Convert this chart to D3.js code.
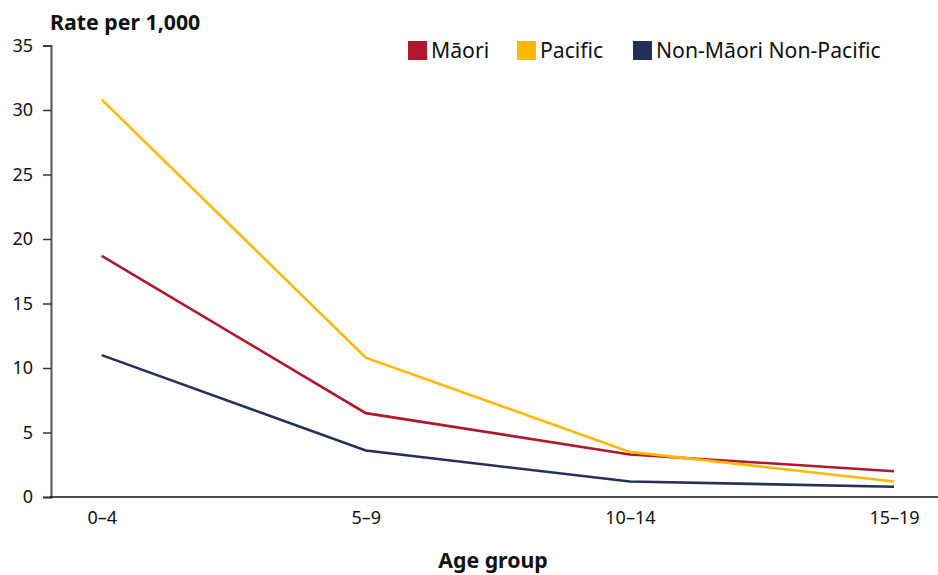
<!DOCTYPE html>
<html><head><meta charset="utf-8">
<script src="https://cdn.jsdelivr.net/npm/d3@7"></script>
<style>body{margin:0;background:#fff;} svg{display:block;font-family:"Noto Sans",sans-serif;}</style>
</head><body>
<svg id="c" width="938" height="575"></svg>
<script>
const categories = ["0–4", "5–9", "10–14", "15–19"];
const seriesNames = ["Māori", "Pacific", "Non-Māori Non-Pacific"];
const maori = [18.7, 6.5, 3.3, 2.0];
const pacific = [30.8, 10.8, 3.5, 1.2];
const nonMP = [11.0, 3.6, 1.2, 0.8];
const yTicks = [0, 5, 10, 15, 20, 25, 30, 35];
const colors = ["#B0182D", "#FFB800", "#233058"];

const series = [maori, pacific, nonMP];
const svg = d3.select("#c");
const x = d3.scalePoint().domain(categories).range([101.7, 894]);
const y = d3.scaleLinear().domain([0, 35]).range([497, 45.5]);

// y axis
const ya = svg.append("g").attr("transform", "translate(51,0)")
  .call(d3.axisLeft(y).tickValues(yTicks).tickSize(8).tickPadding(10));
ya.select(".domain").attr("stroke", "#555").attr("stroke-width", 2);
ya.selectAll(".tick line").attr("stroke", "#333").attr("stroke-width", 1.5);
ya.selectAll(".tick text").attr("font-size", 18).attr("fill", "#111").attr("font-family", "Noto Sans");

// x axis
const xa = svg.append("g").attr("transform", "translate(0,497)")
  .call(d3.axisBottom(x).tickSize(0).tickPadding(14));
xa.select(".domain").remove();
xa.selectAll(".tick text").attr("font-size", 18).attr("fill", "#111").attr("font-family", "Noto Sans");
svg.append("line").attr("x1", 50).attr("x2", 938).attr("y1", 497).attr("y2", 497)
  .attr("stroke", "#111").attr("stroke-width", 1.5);

// lines
const line = d3.line().x((d, i) => x(categories[i])).y(d => y(d));
series.forEach((s, k) => {
  svg.append("path").datum(s).attr("d", line).attr("fill", "none")
    .attr("stroke", colors[k]).attr("stroke-width", 2.6);
});

// title
svg.append("text").attr("x", 50).attr("y", 30).attr("font-size", 21.3).attr("font-weight", "bold")
  .attr("fill", "#111").text("Rate per 1,000");
svg.append("text").attr("x", 493).attr("y", 568).attr("text-anchor", "middle").attr("font-size", 21.3)
  .attr("font-weight", "bold").attr("fill", "#111").text("Age group");

// legend
const legX = [408, 517, 633];
seriesNames.forEach((n, k) => {
  svg.append("rect").attr("x", legX[k]).attr("y", 41).attr("width", 19).attr("height", 19).attr("fill", colors[k]);
  svg.append("text").attr("x", legX[k] + 23).attr("y", 58).attr("font-size", 21.2).attr("fill", "#111").text(n);
});
</script>
</body></html>
